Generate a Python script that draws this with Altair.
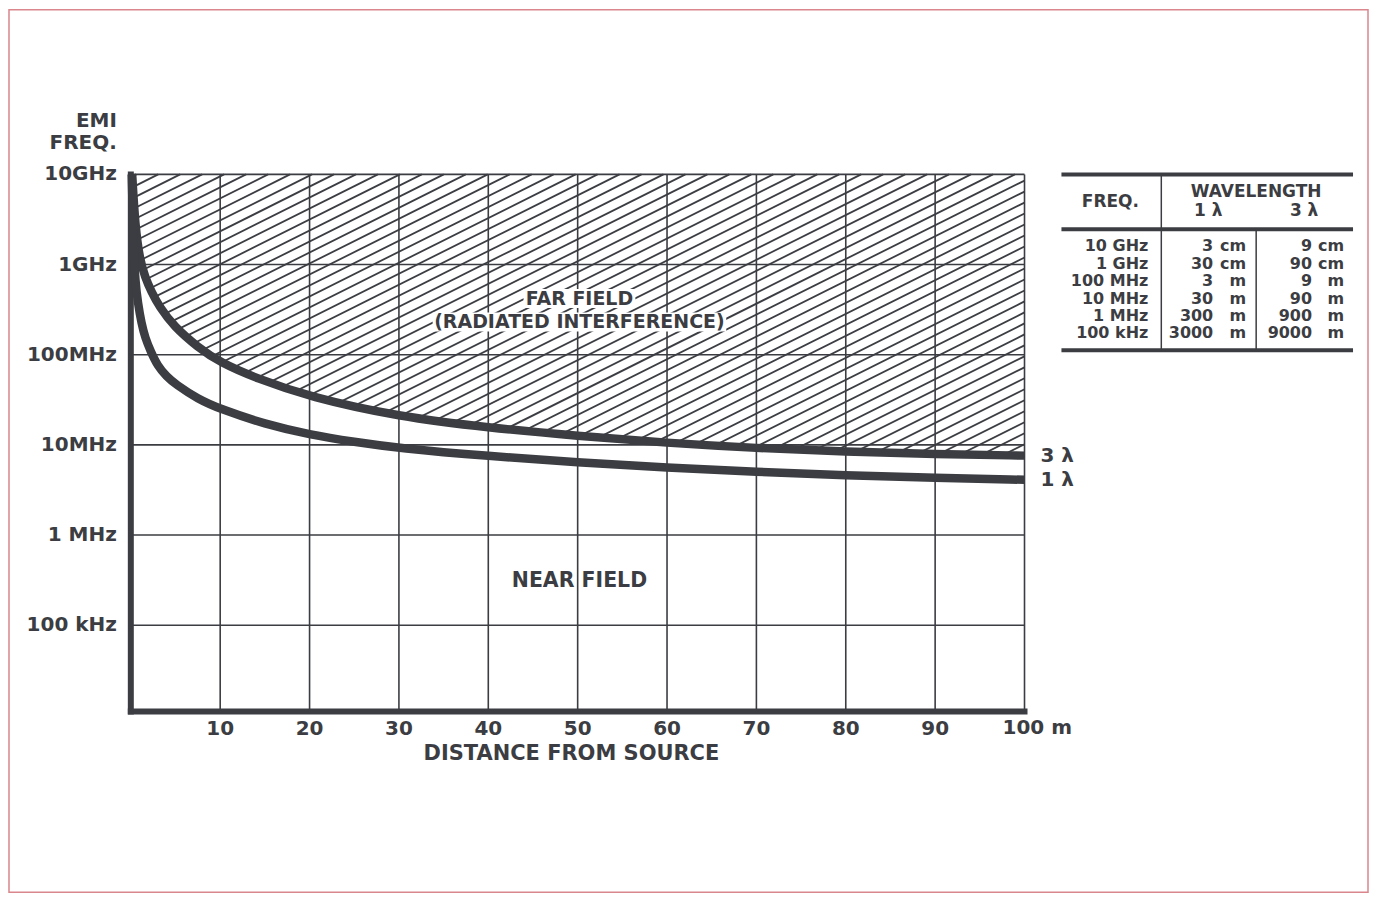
import altair as alt
import pandas as pd
import numpy as np

# ---------------- data ----------------
# 3 lambda boundary curve (distance m, frequency Hz)
dist_3 = [0.15, 0.5, 1.0, 1.6, 2.3, 3.2, 4.8, 7.5, 10, 14, 20, 30, 40, 50, 60, 70, 80, 90, 100]
freq_3 = [1.0e10, 2.6e9, 1.15e9, 7.2e8, 5.0e8, 3.4e8, 2.07e8, 1.21e8, 8.2e7, 5.5e7, 3.4e7,
          2.05e7, 1.55e7, 1.26e7, 1.05e7, 9.2e6, 8.4e6, 7.9e6, 7.6e6]
# 1 lambda curve
dist_1 = [0.1, 0.3, 0.5, 0.8, 1.2, 1.6, 2.2, 3.0, 4.0, 5.0, 7.5, 10, 15, 20, 25, 30,
          40, 50, 60, 70, 80, 90, 100]
freq_1 = [1.0e10, 1.6e9, 6.5e8, 3.7e8, 2.2e8, 1.55e8, 1.1e8, 7.5e7, 5.75e7, 4.7e7, 3.23e7,
          2.5e7, 1.7e7, 1.3e7, 1.08e7, 9.2e6, 7.5e6, 6.4e6, 5.6e6, 5.0e6, 4.6e6, 4.3e6, 4.1e6]
curve_names = ["3 λ", "1 λ"]

y_ticks = [1e10, 1e9, 1e8, 1e7, 1e6, 1e5]
y_labels = ["10GHz", "1GHz", "100MHz", "10MHz", "1 MHz", "100 kHz"]
x_ticks = [10, 20, 30, 40, 50, 60, 70, 80, 90, 100]
x_labels = ["10", "20", "30", "40", "50", "60", "70", "80", "90", "100 m"]
y_title = ["EMI", "FREQ."]
x_title = "DISTANCE FROM SOURCE"
far_text = ["FAR FIELD", "(RADIATED INTERFERENCE)"]
near_text = ["NEAR FIELD"]

tbl_freq = ["10 GHz", "1 GHz", "100 MHz", "10 MHz", "1 MHz", "100 kHz"]
tbl_1_num = ["3", "30", "3", "30", "300", "3000"]
tbl_3_num = ["9", "90", "9", "90", "900", "9000"]
tbl_unit = ["cm", "cm", "m", "m", "m", "m"]
tbl_head = ["FREQ.", "WAVELENGTH", "1 λ", "3 λ"]

# ---------------- layout / style ----------------
INK = "#3b3d42"
FONT = "DejaVu Sans"
D_LO, D_HI = 0, 100
F_LO, F_HI = 1.1e4, 1e10

XS = alt.Scale(domain=[D_LO, D_HI], range=[122, 1017])
YS = alt.Scale(type="log", domain=[F_LO, F_HI], range=[703, 165])
TX = alt.Scale(domain=[0, 292], range=[1054, 1346])
TY = alt.Scale(domain=[0, 176], range=[165, 341])


def X(f):
    return alt.X(f, type="quantitative", scale=XS, axis=None)


def Y(f):
    return alt.Y(f, type="quantitative", scale=YS, axis=None)


def TXe(f):
    return alt.X(f, type="quantitative", scale=TX, axis=None)


def TYe(f):
    return alt.Y(f, type="quantitative", scale=TY, axis=None)


# ---------------- frames ----------------
c3 = pd.DataFrame({"d": dist_3, "f": freq_3, "base": F_LO})
c1 = pd.DataFrame({"d": dist_1, "f": freq_1})

# hatch pattern (style only): parallel lines in pixel space, clipped to the plot box
px_per_m = 895 / 100.0
px_per_dec = 538 / np.log10(F_HI / F_LO)
slope = 0.5 * px_per_m / px_per_dec   # decades per metre
step = 11.0 / px_per_dec              # decades between hatch lines
lo, hi = np.log10(F_LO), np.log10(F_HI)
hrows = []
b = hi - 0.03
while b > 1.5:
    ds = max(D_LO, (lo - b) / slope)
    de = min(D_HI, (hi - b) / slope)
    if de > ds:
        hrows.append({"x": ds, "y": 10 ** (b + slope * ds), "x2": de, "y2": 10 ** (b + slope * de)})
    b -= step
hatch = pd.DataFrame(hrows)

vgrid = pd.DataFrame({"d": x_ticks, "lo": F_LO, "hi": F_HI})
hgrid = pd.DataFrame({"f": y_ticks, "lo": D_LO, "hi": D_HI})
left_ax = pd.DataFrame({"d": [D_LO], "lo": [F_LO], "hi": [F_HI]})
bot_ax = pd.DataFrame({"f": [F_LO], "lo": [D_LO], "hi": [D_HI]})

ylab = pd.DataFrame({"f": y_ticks, "t": y_labels, "d": D_LO})
xlab = pd.DataFrame({"d": x_ticks, "t": x_labels, "f": F_LO})
end_lab = pd.DataFrame({"d": [dist_3[-1], dist_1[-1]], "f": [freq_3[-1], freq_1[-1]], "t": curve_names})
far = pd.DataFrame({"d": [50.2, 50.2], "f": [4.2e8, 2.3e8], "t": far_text})
near = pd.DataFrame({"d": [50.2], "f": [3.1e5], "t": near_text})

layers = []
# hatch
layers.append(alt.Chart(hatch).mark_rule(color=INK, strokeWidth=1.8).encode(
    x=X("x"), y=Y("y"), x2="x2:Q", y2="y2:Q"))
# white area below the 3 lambda curve (near field region without hatch)
layers.append(alt.Chart(c3).mark_area(color="white", opacity=1, interpolate="basis").encode(
    x=X("d"), y=Y("f"), y2="base:Q"))
# grid
layers.append(alt.Chart(vgrid).mark_rule(color=INK, strokeWidth=1.6).encode(
    x=X("d"), y=Y("lo"), y2="hi:Q"))
layers.append(alt.Chart(hgrid).mark_rule(color=INK, strokeWidth=1.6).encode(
    y=Y("f"), x=X("lo"), x2="hi:Q"))
# white knock-out behind the far-field caption (the hatch is interrupted there)
layers.append(alt.Chart(far.iloc[[0]]).mark_rect(color="white", width=112, height=19).encode(
    x=X("d"), y=Y("f")))
layers.append(alt.Chart(far.iloc[[1]]).mark_rect(color="white", width=294, height=19).encode(
    x=X("d"), y=Y("f")))
# thick axes
layers.append(alt.Chart(left_ax).mark_rule(color=INK, strokeWidth=6, strokeCap="square").encode(
    x=X("d"), y=Y("lo"), y2="hi:Q"))
layers.append(alt.Chart(bot_ax).mark_rule(color=INK, strokeWidth=6, strokeCap="square").encode(
    y=Y("f"), x=X("lo"), x2="hi:Q"))
# curves
layers.append(alt.Chart(c3).mark_line(color=INK, strokeWidth=8.5, interpolate="basis").encode(
    x=X("d"), y=Y("f")))
layers.append(alt.Chart(c1).mark_line(color=INK, strokeWidth=8.5, interpolate="basis").encode(
    x=X("d"), y=Y("f")))
# curve end labels
layers.append(alt.Chart(end_lab).mark_text(align="left", baseline="middle", dx=16, font=FONT,
                                           fontWeight="bold", fontSize=20, color=INK).encode(
    x=X("d"), y=Y("f"), text="t:N"))
# y tick labels
layers.append(alt.Chart(ylab).mark_text(align="right", baseline="middle", dx=-14, font=FONT,
                                        fontWeight="bold", fontSize=20, color=INK).encode(
    x=X("d"), y=Y("f"), text="t:N"))
# x tick labels
layers.append(alt.Chart(xlab).transform_filter("datum.d < 100").mark_text(
    align="center", baseline="middle", dy=17, font=FONT, fontWeight="bold", fontSize=20, color=INK).encode(
    x=X("d"), y=Y("f"), text="t:N"))
layers.append(alt.Chart(xlab).transform_filter("datum.d >= 100").mark_text(
    align="left", baseline="middle", dx=-22, dy=16, font=FONT, fontWeight="bold", fontSize=20, color=INK).encode(
    x=X("d"), y=Y("f"), text="t:N"))
# axis titles
layers.append(alt.Chart(pd.DataFrame({"d": [49.3], "f": [F_LO], "t": [x_title]})).mark_text(
    align="center", baseline="middle", dy=42, font=FONT, fontWeight="bold", fontSize=21, color=INK).encode(
    x=X("d"), y=Y("f"), text="t:N"))
layers.append(alt.Chart(pd.DataFrame({"d": [D_LO], "f": [F_HI], "t": [y_title[0]]})).mark_text(
    align="right", baseline="middle", dx=-14, dy=-53, font=FONT, fontWeight="bold", fontSize=20, color=INK).encode(
    x=X("d"), y=Y("f"), text="t:N"))
layers.append(alt.Chart(pd.DataFrame({"d": [D_LO], "f": [F_HI], "t": [y_title[1]]})).mark_text(
    align="right", baseline="middle", dx=-14, dy=-31, font=FONT, fontWeight="bold", fontSize=20, color=INK).encode(
    x=X("d"), y=Y("f"), text="t:N"))
# region annotations
layers.append(alt.Chart(far).mark_text(align="center", baseline="middle", font=FONT, fontWeight="bold",
                                       fontSize=19, color=INK).encode(
    x=X("d"), y=Y("f"), text="t:N"))
layers.append(alt.Chart(near).mark_text(align="center", baseline="middle", font=FONT, fontWeight="bold",
                                        fontSize=20.5, color=INK).encode(
    x=X("d"), y=Y("f"), text="t:N"))

# ---------------- table ----------------
t_hrule = pd.DataFrame({"y": [0, 55, 176], "x": 0, "x2": 292})
t_vrule = pd.DataFrame({"x": [100, 195], "y": [0, 56], "y2": [176, 176]})
row_y = [72, 89.5, 107, 124.5, 141.5, 158.5]
t_rows = pd.DataFrame({"y": row_y, "fr": tbl_freq, "n1": tbl_1_num, "n3": tbl_3_num, "u": tbl_unit,
                       "xf": 87, "xn1": 152, "xu1": 185, "xn3": 251, "xu3": 283})
t_head = pd.DataFrame({"t": tbl_head, "x": [49, 195, 147, 243], "y": [28, 18, 37, 37]})

layers.append(alt.Chart(t_hrule).mark_rule(color=INK, strokeWidth=4).encode(
    x=TXe("x"), x2="x2:Q", y=TYe("y")))
layers.append(alt.Chart(t_vrule).mark_rule(color=INK, strokeWidth=1.5).encode(
    x=TXe("x"), y=TYe("y"), y2="y2:Q"))
layers.append(alt.Chart(t_head).mark_text(align="center", baseline="middle", font=FONT, fontWeight="bold",
                                          fontSize=17, color=INK).encode(
    x=TXe("x"), y=TYe("y"), text="t:N"))
for xcol, tcol in [("xf", "fr"), ("xn1", "n1"), ("xu1", "u"), ("xn3", "n3"), ("xu3", "u")]:
    layers.append(alt.Chart(t_rows).mark_text(align="right", baseline="middle", font=FONT,
                                              fontWeight="bold", fontSize=16, color=INK).encode(
        x=TXe(xcol), y=TYe("y"), text=f"{tcol}:N"))

chart = alt.layer(*layers).resolve_scale(x="independent", y="independent").properties(
    width=1361, height=884, padding=1, autosize=alt.AutoSizeParams(type="none"),
    background="white"
).configure_view(stroke="#d9868d", strokeWidth=1.5)

chart.save("out.html", embed_options={"renderer": "svg", "actions": False})
